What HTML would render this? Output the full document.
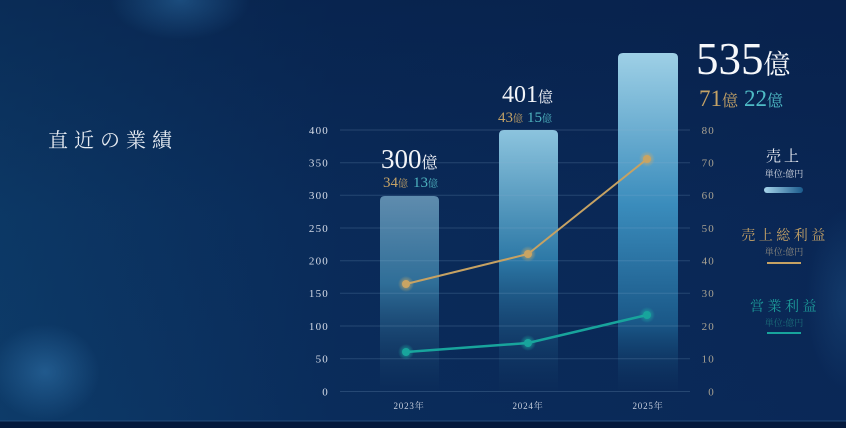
<!DOCTYPE html>
<html><head><meta charset="utf-8"><style>
html,body{margin:0;padding:0;background:#0a2a58;}
svg{display:block;}
text{font-family:"Liberation Serif","Noto Serif CJK SC",serif;}
</style></head><body>
<svg width="846" height="428" viewBox="0 0 846 428" xmlns="http://www.w3.org/2000/svg">
<defs>
<linearGradient id="bg" x1="0" y1="0" x2="1" y2="0">
<stop offset="0" stop-color="#0d3b69"/>
<stop offset="0.4" stop-color="#0a2c5b"/>
<stop offset="1" stop-color="#0a2857"/>
</linearGradient>
<linearGradient id="bgv" x1="0" y1="0" x2="0" y2="1">
<stop offset="0" stop-color="#061a40" stop-opacity="0.45"/>
<stop offset="0.5" stop-color="#061a40" stop-opacity="0.1"/>
<stop offset="1" stop-color="#061a40" stop-opacity="0"/>
</linearGradient>
<radialGradient id="g1" cx="0.5" cy="0.5" r="0.5">
<stop offset="0" stop-color="#2a6aa0" stop-opacity="0.55"/>
<stop offset="1" stop-color="#2a6aa0" stop-opacity="0"/>
</radialGradient>
<radialGradient id="g2" cx="0.5" cy="0.5" r="0.5">
<stop offset="0" stop-color="#2c6ca2" stop-opacity="0.65"/>
<stop offset="1" stop-color="#2c6ca2" stop-opacity="0"/>
</radialGradient>
<linearGradient id="b1" x1="0" y1="0" x2="0" y2="1">
<stop offset="0" stop-color="#5f8cae"/>
<stop offset="0.45" stop-color="#2f6e98"/>
<stop offset="1" stop-color="#0c2c58" stop-opacity="0.3"/>
</linearGradient>
<linearGradient id="b2" x1="0" y1="0" x2="0" y2="1">
<stop offset="0" stop-color="#8cc4de"/>
<stop offset="0.5" stop-color="#2c78a6"/>
<stop offset="1" stop-color="#0c2c58" stop-opacity="0.3"/>
</linearGradient>
<linearGradient id="b3" x1="0" y1="0" x2="0" y2="1">
<stop offset="0" stop-color="#9ed0e6"/>
<stop offset="0.45" stop-color="#3a8cbc"/>
<stop offset="0.8" stop-color="#1a5888"/>
<stop offset="1" stop-color="#0c2c58" stop-opacity="0.3"/>
</linearGradient>
<linearGradient id="lg" x1="0" y1="0" x2="1" y2="0">
<stop offset="0" stop-color="#a6d4ea"/>
<stop offset="1" stop-color="#1a5a8c"/>
</linearGradient>
<radialGradient id="dg" cx="0.5" cy="0.5" r="0.5">
<stop offset="0" stop-color="#d4aa60" stop-opacity="0.9"/>
<stop offset="1" stop-color="#d4aa60" stop-opacity="0"/>
</radialGradient>
<radialGradient id="dt" cx="0.5" cy="0.5" r="0.5">
<stop offset="0" stop-color="#1ab0a4" stop-opacity="0.9"/>
<stop offset="1" stop-color="#1ab0a4" stop-opacity="0"/>
</radialGradient>
</defs>
<rect width="846" height="428" fill="url(#bg)"/>
<rect width="846" height="428" fill="url(#bgv)"/>
<ellipse cx="180" cy="0" rx="70" ry="40" fill="url(#g1)"/>
<ellipse cx="45" cy="372" rx="55" ry="48" fill="url(#g2)"/>
<ellipse cx="846" cy="300" rx="40" ry="90" fill="url(#g1)" opacity="0.5"/>

<!-- bottom band -->
<rect x="0" y="421" width="846" height="7" fill="#04193c"/>
<rect x="0" y="420.5" width="846" height="1" fill="#2a5584" opacity="0.8"/>

<!-- title -->
<text x="48" y="147" font-size="20" fill="#e6ebf2" letter-spacing="6">直近の業績</text>

<!-- bars -->
<path d="M380,391 V201 Q380,196 385,196 H434 Q439,196 439,201 V391 Z" fill="url(#b1)"/>
<path d="M499,391 V135 Q499,130 504,130 H553 Q558,130 558,135 V391 Z" fill="url(#b2)"/>
<path d="M618,391 V58 Q618,53 623,53 H673 Q678,53 678,58 V391 Z" fill="url(#b3)"/>

<!-- gridlines -->
<g stroke="#8fb0d0" stroke-opacity="0.22" stroke-width="1">
<line x1="340" y1="130" x2="690" y2="130"/>
<line x1="340" y1="162.7" x2="690" y2="162.7"/>
<line x1="340" y1="195.3" x2="690" y2="195.3"/>
<line x1="340" y1="228" x2="690" y2="228"/>
<line x1="340" y1="260.7" x2="690" y2="260.7"/>
<line x1="340" y1="293.3" x2="690" y2="293.3"/>
<line x1="340" y1="326" x2="690" y2="326"/>
<line x1="340" y1="358.7" x2="690" y2="358.7"/>
<line x1="340" y1="391.5" x2="690" y2="391.5"/>
</g>

<!-- left axis labels -->
<g font-size="11" fill="#d6dce8" text-anchor="end" letter-spacing="1.2">
<text x="329" y="134">400</text>
<text x="329" y="166.5">350</text>
<text x="329" y="199">300</text>
<text x="329" y="232">250</text>
<text x="329" y="264.5">200</text>
<text x="329" y="297">150</text>
<text x="329" y="330">100</text>
<text x="329" y="362.5">50</text>
<text x="329" y="395.5">0</text>
</g>
<!-- right axis labels -->
<g font-size="11" fill="#aaa392" text-anchor="end" letter-spacing="1.2">
<text x="715" y="134">80</text>
<text x="715" y="166.5">70</text>
<text x="715" y="199">60</text>
<text x="715" y="232">50</text>
<text x="715" y="264.5">40</text>
<text x="715" y="297">30</text>
<text x="715" y="330">20</text>
<text x="715" y="362.5">10</text>
<text x="715" y="395.5">0</text>
</g>

<!-- x labels -->
<g font-size="9" fill="#c8d0de" text-anchor="middle" letter-spacing="0.8">
<text x="409" y="409">2023年</text>
<text x="528" y="409">2024年</text>
<text x="648" y="409">2025年</text>
</g>

<!-- lines -->
<polyline points="406,284 528,254 647,159" fill="none" stroke="#c6a263" stroke-width="2"/>
<polyline points="406,352 528,343 647,315" fill="none" stroke="#18a49c" stroke-width="2.5"/>
<g>
<circle cx="406" cy="284" r="8" fill="url(#dg)"/>
<circle cx="406" cy="284" r="4" fill="#c9a463"/>
<circle cx="528" cy="254" r="8" fill="url(#dg)"/>
<circle cx="528" cy="254" r="4" fill="#c9a463"/>
<circle cx="647" cy="159" r="8" fill="url(#dg)"/>
<circle cx="647" cy="159" r="4" fill="#c9a463"/>
<circle cx="406" cy="352" r="8" fill="url(#dt)"/>
<circle cx="406" cy="352" r="4" fill="#18a49c"/>
<circle cx="528" cy="343" r="8" fill="url(#dt)"/>
<circle cx="528" cy="343" r="4" fill="#18a49c"/>
<circle cx="647" cy="315" r="8" fill="url(#dt)"/>
<circle cx="647" cy="315" r="4" fill="#18a49c"/>
</g>

<!-- value labels -->
<text x="381" y="168" fill="#f2f4f8"><tspan font-size="27">300</tspan><tspan font-size="16">億</tspan></text>
<text x="383" y="187"><tspan font-size="15" fill="#c4a266">34</tspan><tspan font-size="10" fill="#c4a266">億</tspan><tspan font-size="15" fill="#4fb4c0" dx="5">13</tspan><tspan font-size="10" fill="#4fb4c0">億</tspan></text>

<text x="502" y="102" fill="#f2f4f8"><tspan font-size="24">401</tspan><tspan font-size="15">億</tspan></text>
<text x="498" y="122"><tspan font-size="15" fill="#c4a266">43</tspan><tspan font-size="10" fill="#c4a266">億</tspan><tspan font-size="15" fill="#4fb4c0" dx="4">15</tspan><tspan font-size="10" fill="#4fb4c0">億</tspan></text>

<text x="696" y="74" fill="#f6f8fb"><tspan font-size="45">535</tspan><tspan font-size="27">億</tspan></text>
<text x="699" y="106"><tspan font-size="23" fill="#c4a266">71</tspan><tspan font-size="16" fill="#c4a266">億</tspan><tspan font-size="23" fill="#4fbcc6" dx="6">22</tspan><tspan font-size="16" fill="#4fbcc6">億</tspan></text>

<!-- legend -->
<g text-anchor="middle">
<text x="784" y="161" font-size="15" fill="#eef1f6" letter-spacing="3">売上</text>
<text x="784" y="177" font-size="9" fill="#d8dde6">単位:億円</text>
<rect x="764" y="187" width="39" height="6" rx="3" fill="url(#lg)"/>

<text x="785" y="240" font-size="14" fill="#c8a466" letter-spacing="3.5">売上総利益</text>
<text x="784" y="255" font-size="9" fill="#8f8a7e">単位:億円</text>
<rect x="767" y="262" width="34" height="2" fill="#c6a263"/>

<text x="785" y="311" font-size="14" fill="#1d9c9a" letter-spacing="3.5">営業利益</text>
<text x="784" y="326" font-size="9" fill="#1b6f7a">単位:億円</text>
<rect x="767" y="332" width="34" height="2" fill="#18a49c"/>
</g>
</svg>
</body></html>
